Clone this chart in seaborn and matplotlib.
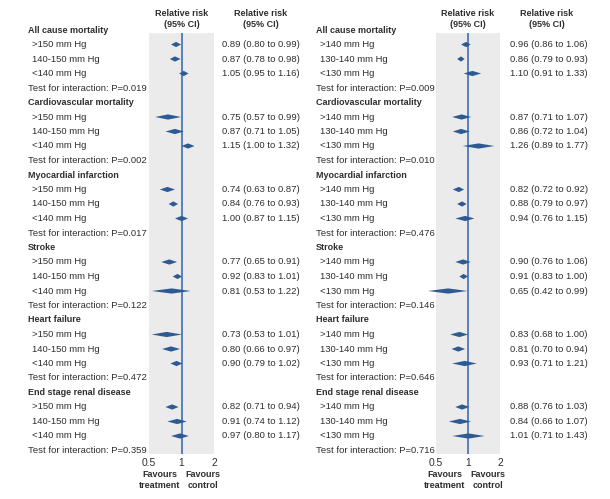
import matplotlib
matplotlib.use("Agg")
import matplotlib.pyplot as plt
import matplotlib.transforms as mtransforms
from matplotlib.ticker import NullLocator
import seaborn as sns

# ---------------- data ----------------
outcomes = ["All cause mortality", "Cardiovascular mortality", "Myocardial infarction",
            "Stroke", "Heart failure", "End stage renal disease"]

left_subgroups = [">150 mm Hg", "140-150 mm Hg", "<140 mm Hg"]
left_rr = [[0.89, 0.87, 1.05], [0.75, 0.87, 1.15], [0.74, 0.84, 1.00],
           [0.77, 0.92, 0.81], [0.73, 0.80, 0.90], [0.82, 0.91, 0.97]]
left_lo = [[0.80, 0.78, 0.95], [0.57, 0.71, 1.00], [0.63, 0.76, 0.87],
           [0.65, 0.83, 0.53], [0.53, 0.66, 0.79], [0.71, 0.74, 0.80]]
left_hi = [[0.99, 0.98, 1.16], [0.99, 1.05, 1.32], [0.87, 0.93, 1.15],
           [0.91, 1.01, 1.22], [1.01, 0.97, 1.02], [0.94, 1.12, 1.17]]
left_p = ["0.019", "0.002", "0.017", "0.122", "0.472", "0.359"]

right_subgroups = [">140 mm Hg", "130-140 mm Hg", "<130 mm Hg"]
right_rr = [[0.96, 0.86, 1.10], [0.87, 0.86, 1.26], [0.82, 0.88, 0.94],
            [0.90, 0.91, 0.65], [0.83, 0.81, 0.93], [0.88, 0.84, 1.01]]
right_lo = [[0.86, 0.79, 0.91], [0.71, 0.72, 0.89], [0.72, 0.79, 0.76],
            [0.76, 0.83, 0.42], [0.68, 0.70, 0.71], [0.76, 0.66, 0.71]]
right_hi = [[1.06, 0.93, 1.33], [1.07, 1.04, 1.77], [0.92, 0.97, 1.15],
            [1.06, 1.00, 0.99], [1.00, 0.94, 1.21], [1.03, 1.07, 1.43]]
right_p = ["0.009", "0.010", "0.476", "0.146", "0.646", "0.716"]

x_ticks = [0.5, 1, 2]
x_ticklabels = ["0.5", "1", "2"]
col_header = "Relative risk\n(95% CI)"
favours_left = "Favours\ntreatment"
favours_right = "Favours\ncontrol"

# ---------------- style ----------------
sns.set_theme(style="white")
FAM = ["Liberation Sans Narrow", "Liberation Sans", "DejaVu Sans"]
plt.rcParams["font.family"] = FAM
TXT = "#2f2f2f"
GREY = "#ebebeb"
LINE = "#3f6fae"
DIAM = "#2e5a94"
FS = 6.8
FSB = 6.5

W, H = 610, 499
fig = plt.figure(figsize=(W / 100, H / 100), dpi=100)


def fx(px):
    return px / W


def fy(py):
    return 1 - py / H


ROW0, ROWH = 30.0, 14.5
BOX_TOP, BOX_BOT = 33.0, 454.0


def panel(x0, x1, xlab_head, xlab_sub, xci, hdr1, hdr2, fav1, fav2,
          subgroups, rr, lo, hi, pvals):
    ax = fig.add_axes([fx(x0), fy(BOX_BOT), fx(x1 - x0), (BOX_BOT - BOX_TOP) / H])
    ax.set_facecolor(GREY)
    ax.set_xscale("log")
    ax.set_xlim(0.5, 2)
    ylo = (BOX_TOP - ROW0) / ROWH
    yhi = (BOX_BOT - ROW0) / ROWH
    ax.set_ylim(yhi, ylo)
    for s in ax.spines.values():
        s.set_visible(False)
    ax.set_yticks([])
    ax.xaxis.set_minor_locator(NullLocator())
    ax.set_xticks(x_ticks)
    ax.set_xticklabels(x_ticklabels, fontsize=7.4, color=TXT)
    ax.tick_params(axis="x", length=0, pad=3)
    ax.axvline(1, color=LINE, lw=1.2, zorder=1)

    trans = mtransforms.blended_transform_factory(fig.transFigure, ax.transData)
    hh = 0.18
    for g, name in enumerate(outcomes):
        base = g * 5
        ax.text(fx(xlab_head), base, name, transform=trans, fontsize=FSB,
                fontweight="bold", color=TXT, va="center", ha="left", clip_on=False)
        for k, sg in enumerate(subgroups):
            r = base + 1 + k
            ax.text(fx(xlab_sub), r, sg, transform=trans, fontsize=FS,
                    color=TXT, va="center", ha="left", clip_on=False)
            e, l, h = rr[g][k], lo[g][k], hi[g][k]
            ax.fill([l, e, h, e], [r, r - hh, r, r + hh], color=DIAM, lw=0,
                    zorder=3, clip_on=False)
            ax.text(fx(xci), r, f"{e:.2f} ({l:.2f} to {h:.2f})", transform=trans,
                    fontsize=FS, color=TXT, va="center", ha="left", clip_on=False)
        ax.text(fx(xlab_head), base + 4, f"Test for interaction: P={pvals[g]}",
                transform=trans, fontsize=FS, color=TXT, va="center", ha="left",
                clip_on=False)

    fig.text(fx(hdr1), fy(19), col_header, fontsize=FSB, fontweight="bold",
             color=TXT, ha="center", va="center", linespacing=1.25)
    fig.text(fx(hdr2), fy(19), col_header, fontsize=FSB, fontweight="bold",
             color=TXT, ha="center", va="center", linespacing=1.25)
    fig.text(fx(fav1), fy(480), favours_left, fontsize=FSB, fontweight="bold",
             color=TXT, ha="center", va="center", linespacing=1.25)
    fig.text(fx(fav2), fy(480), favours_right, fontsize=FSB, fontweight="bold",
             color=TXT, ha="center", va="center", linespacing=1.25)
    return ax


panel(149, 214, 28, 32, 222, 181.5, 260.5, 160, 203,
      left_subgroups, left_rr, left_lo, left_hi, left_p)
panel(436, 500, 316, 320, 510, 468, 547, 445, 488,
      right_subgroups, right_rr, right_lo, right_hi, right_p)

fig.savefig("out.png", dpi=100)
